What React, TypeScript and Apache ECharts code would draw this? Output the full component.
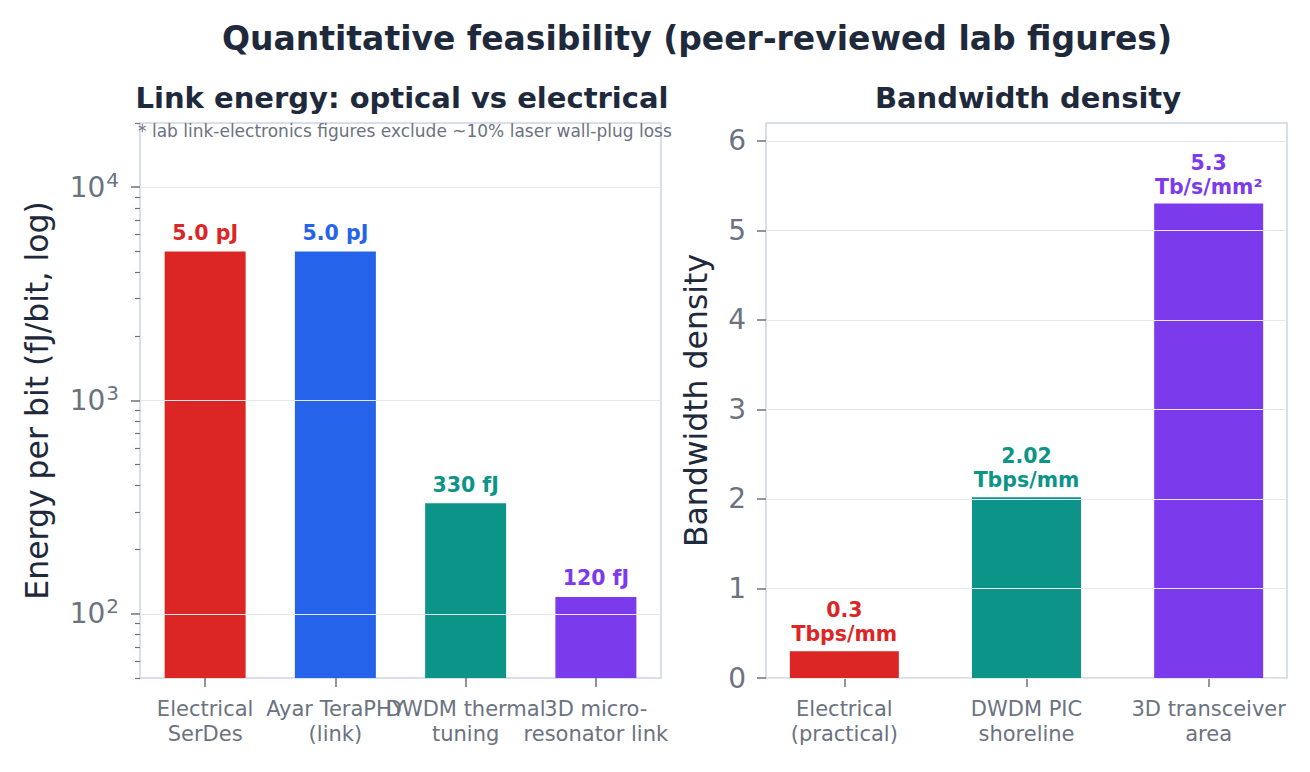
import React, { useEffect, useRef } from "react";
import * as echarts from "echarts";

// Link energy per bit (fJ/bit), log scale
const energyCategories = [
  "Electrical\nSerDes",
  "Ayar TeraPHY\n(link)",
  "DWDM thermal\ntuning",
  "3D micro-\nresonator link",
];
const energyValues = [5000, 5000, 330, 120];
const energyLabels = ["5.0 pJ", "5.0 pJ", "330 fJ", "120 fJ"];
const energyColors = ["#dc2626", "#2563eb", "#0d9488", "#7c3aed"];
const energyMajorTicks = [100, 1000, 10000];
const energyMinorTicks = [
  50, 60, 70, 80, 90,
  200, 300, 400, 500, 600, 700, 800, 900,
  2000, 3000, 4000, 5000, 6000, 7000, 8000, 9000,
  20000,
];

// Bandwidth density
const densityCategories = [
  "Electrical\n(practical)",
  "DWDM PIC\nshoreline",
  "3D transceiver\narea",
];
const densityValues = [0.3, 2.02, 5.3];
const densityLabels = ["0.3\nTbps/mm", "2.02\nTbps/mm", "5.3\nTb/s/mm²"];
const densityColors = ["#dc2626", "#0d9488", "#7c3aed"];
const densityTicks = [0, 1, 2, 3, 4, 5, 6];
const densityPositions = [0, 1, 2];

const FONT = "DejaVu Sans";
const DARK = "#1e293b";
const GRAY = "#6b7280";
const FRAME = "#cbd5e1";
const GRID = "#e5e7eb";

export default function App() {
  const ref = useRef<HTMLDivElement>(null);

  useEffect(() => {
    if (!ref.current) return;
    const chart = echarts.init(ref.current, null, { renderer: "svg" });

    const tickLabel = {
      color: GRAY,
      fontFamily: FONT,
      fontSize: 28,
    };
    const categoryLabel = {
      color: GRAY,
      fontFamily: FONT,
      fontSize: 21,
      lineHeight: 25,
      margin: 18,
    };

    chart.setOption({
      animation: false,
      backgroundColor: "#ffffff",
      textStyle: { fontFamily: FONT },
      title: [
        {
          text: "Quantitative feasibility (peer-reviewed lab figures)",
          left: 692,
          textAlign: "center",
          top: 17,
          textStyle: { fontFamily: FONT, fontSize: 33, fontWeight: "bold", color: DARK },
        },
        {
          text: "Link energy: optical vs electrical",
          left: 397,
          textAlign: "center",
          top: 78,
          textStyle: { fontFamily: FONT, fontSize: 29, fontWeight: "bold", color: DARK },
        },
        {
          text: "Bandwidth density",
          left: 1023,
          textAlign: "center",
          top: 78,
          textStyle: { fontFamily: FONT, fontSize: 29, fontWeight: "bold", color: DARK },
        },
      ],
      graphic: [
        {
          type: "text",
          left: 138,
          top: 122,
          z: 10,
          style: {
            text: "* lab link-electronics figures exclude ~10% laser wall-plug loss",
            fontFamily: FONT,
            fontSize: 17,
            fill: GRAY,
          },
        },
      ],
      grid: [
        {
          left: 140,
          top: 123,
          width: 521,
          height: 555,
          show: true,
          borderColor: FRAME,
          borderWidth: 1.5,
          backgroundColor: "transparent",
        },
        {
          left: 766,
          top: 123,
          width: 521,
          height: 555,
          show: true,
          borderColor: FRAME,
          borderWidth: 1.5,
          backgroundColor: "transparent",
        },
      ],
      xAxis: [
        {
          type: "category",
          gridIndex: 0,
          data: energyCategories,
          axisLine: { show: false },
          axisTick: { show: true, alignWithLabel: true, length: 9, lineStyle: { color: GRAY, width: 1.5 } },
          axisLabel: { interval: 0, ...categoryLabel },
          splitLine: { show: false },
        },
        {
          type: "value",
          gridIndex: 1,
          min: -0.43,
          max: 2.43,
          axisLine: { show: false, onZero: false },
          axisTick: {
            show: true,
            customValues: densityPositions,
            length: 9,
            lineStyle: { color: GRAY, width: 1.5 },
          },
          axisLabel: {
            customValues: densityPositions,
            formatter: (v: number) => densityCategories[Math.round(v)] ?? "",
            ...categoryLabel,
          },
          splitLine: { show: false },
        },
      ],
      yAxis: [
        {
          type: "log",
          logBase: 10,
          gridIndex: 0,
          min: 50,
          max: 20000,
          z: 3,
          name: "Energy per bit (fJ/bit, log)",
          nameLocation: "middle",
          nameGap: 87,
          nameTextStyle: { color: DARK, fontFamily: FONT, fontSize: 31.5 },
          axisLine: { show: false },
          axisTick: {
            show: true,
            customValues: energyMajorTicks,
            length: 9,
            lineStyle: { color: GRAY, width: 1.5 },
          },
          axisLabel: {
            customValues: energyMajorTicks,
            formatter: (v: number) => `10{sup|${Math.round(Math.log10(v))}}`,
            margin: 21,
            ...tickLabel,
            rich: {
              sup: {
                fontFamily: FONT,
                fontSize: 20,
                color: GRAY,
                verticalAlign: "bottom",
                padding: [0, 0, 15, 1],
              },
            },
          },
          splitLine: {
            show: true,
            customValues: energyMajorTicks,
            lineStyle: { color: GRID, width: 1.2 },
          },
        },
        {
          // minor ticks of the log axis, placed on the left frame edge
          type: "log",
          logBase: 10,
          gridIndex: 0,
          min: 50,
          max: 20000,
          position: "right",
          offset: -521,
          axisLine: { show: false, onZero: false },
          axisTick: {
            show: true,
            inside: true,
            customValues: energyMinorTicks,
            length: 5,
            lineStyle: { color: GRAY, width: 1.2 },
          },
          axisLabel: { show: false },
          splitLine: { show: false },
        },
        {
          type: "value",
          gridIndex: 1,
          min: 0,
          max: 6.2,
          z: 3,
          name: "Bandwidth density",
          nameLocation: "middle",
          nameGap: 54,
          nameTextStyle: { color: DARK, fontFamily: FONT, fontSize: 31.5 },
          axisLine: { show: false, onZero: false },
          axisTick: {
            show: true,
            customValues: densityTicks,
            length: 9,
            lineStyle: { color: GRAY, width: 1.5 },
          },
          axisLabel: {
            customValues: densityTicks,
            margin: 20,
            ...tickLabel,
          },
          splitLine: {
            show: true,
            customValues: densityTicks,
            lineStyle: { color: GRID, width: 1.2 },
          },
        },
      ],
      series: [
        {
          type: "bar",
          xAxisIndex: 0,
          yAxisIndex: 0,
          barWidth: 81,
          data: energyValues.map((v, i) => ({
            value: v,
            itemStyle: { color: energyColors[i] },
            label: { color: energyColors[i] },
          })),
          label: {
            show: true,
            position: "top",
            distance: 8,
            fontFamily: FONT,
            fontSize: 20.5,
            fontWeight: "bold",
            formatter: (p: any) => energyLabels[p.dataIndex],
          },
        },
        {
          type: "bar",
          xAxisIndex: 1,
          yAxisIndex: 2,
          barWidth: 109,
          data: densityValues.map((v, i) => ({
            value: [densityPositions[i], v],
            itemStyle: { color: densityColors[i] },
            label: { color: densityColors[i] },
          })),
          label: {
            show: true,
            position: "top",
            distance: 5,
            fontFamily: FONT,
            fontSize: 20.5,
            fontWeight: "bold",
            lineHeight: 24,
            align: "center",
            formatter: (p: any) => densityLabels[p.dataIndex],
          },
        },
      ],
    });

    return () => chart.dispose();
  }, []);

  return (
    <div
      ref={ref}
      style={{ position: "fixed", left: 0, top: 0, width: 1310, height: 772 }}
    />
  );
}
